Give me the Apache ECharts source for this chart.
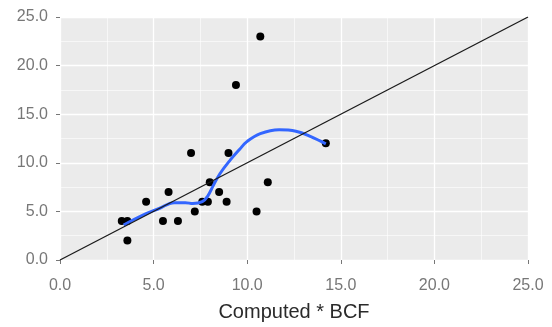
<!DOCTYPE html>
<html>
<head>
<meta charset="utf-8">
<script src="https://cdn.jsdelivr.net/npm/echarts@6/dist/echarts.min.js"></script>
<style>
  html, body { margin: 0; padding: 0; background: #fff; }
  #chart { width: 552px; height: 327px; }
</style>
</head>
<body>
<div id="chart"></div>
<script>
// Observed values against computed * BCF
const computedBcf = [3.3, 3.6, 3.6, 4.6, 5.5, 5.8, 6.3, 7.0, 7.2, 7.6, 7.9, 8.0, 8.5, 8.9, 9.0, 10.5, 11.1, 10.7, 9.4, 14.2];
const observed    = [4, 4, 2, 6, 4, 7, 4, 11, 5, 6, 6, 8, 7, 6, 11, 5, 8, 23, 18, 12];

// Smoothed trend (loess fit)
const trendX = [3.4, 4.4, 5.3, 6.1, 6.7, 7.1, 7.6, 7.9, 8.2, 8.55, 9.1, 9.6, 10.0, 10.7, 11.7, 12.6, 13.4, 14.2];
const trendY = [3.6, 4.6, 5.3, 5.9, 5.9, 5.8, 6.0, 6.6, 7.7, 8.9, 10.3, 11.4, 12.2, 13.0, 13.4, 13.25, 12.7, 11.95];

// 1:1 reference line endpoints
const identityEnds = [0, 25];

const axisTicks = { min: 0, max: 25, interval: 5 };

const FONT = "'Liberation Sans', Arial, Helvetica, sans-serif";

function pairs(xs, ys) { return xs.map((x, i) => [x, ys[i]]); }

function valueAxis(extra) {
  return Object.assign({
    type: 'value',
    min: axisTicks.min,
    max: axisTicks.max,
    interval: axisTicks.interval,
    axisLine: { show: false },
    axisTick: { show: true, length: 4, lineStyle: { color: '#777', width: 1 } },
    splitLine: { show: true, lineStyle: { color: '#ffffff', width: 1.3 } },
    minorTick: { show: false, splitNumber: 2 },
    minorSplitLine: { show: true, lineStyle: { color: '#ffffff', width: 0.6 } }
  }, extra);
}

const chart = echarts.init(document.getElementById('chart'), null, { renderer: 'canvas' });

chart.setOption({
  animation: false,
  backgroundColor: '#ffffff',
  grid: {
    left: 60, right: 24, top: 17, bottom: 57,
    show: true, backgroundColor: '#EBEBEB', borderWidth: 0
  },
  xAxis: valueAxis({
    name: 'Computed * BCF',
    nameLocation: 'middle',
    nameGap: 42,
    nameTextStyle: { color: '#2a2a2a', fontFamily: FONT, fontSize: 20 },
    axisLabel: {
      color: '#777777', fontFamily: FONT, fontSize: 16, margin: 18,
      formatter: v => v.toFixed(1)
    }
  }),
  yAxis: valueAxis({
    axisLabel: {
      color: '#777777', fontFamily: FONT, fontSize: 16, margin: 12,
      formatter: v => v.toFixed(1)
    }
  }),
  series: [
    {
      type: 'scatter',
      data: pairs(computedBcf, observed),
      symbolSize: 8,
      itemStyle: { color: '#000000', opacity: 1 },
      z: 2
    },
    {
      type: 'line',
      data: pairs(trendX, trendY),
      smooth: 0.4,
      showSymbol: false,
      lineStyle: { color: '#3366FF', width: 3 },
      z: 3
    },
    {
      type: 'line',
      data: pairs(identityEnds, identityEnds),
      showSymbol: false,
      lineStyle: { color: '#1a1a1a', width: 1.3 },
      z: 4
    }
  ]
});
</script>
</body>
</html>
